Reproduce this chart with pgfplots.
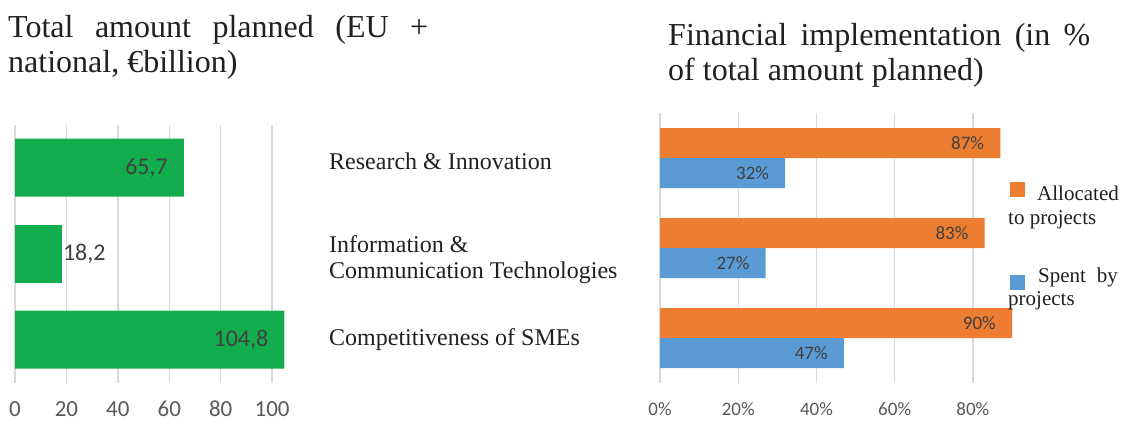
\documentclass[border=0pt]{standalone}
\usepackage{pgfplots}
\pgfplotsset{compat=1.18}
\usepackage{fontspec}
\setmainfont{Liberation Serif}
\newfontfamily\carlito{Carlito}

\definecolor{xgreen}{HTML}{12AD4C}
\definecolor{xorange}{HTML}{ED7D31}
\definecolor{xblue}{HTML}{5B9BD5}
\definecolor{xgrid}{HTML}{D9D9D9}
\definecolor{xlabel}{HTML}{404040}
\definecolor{xtick}{HTML}{595959}
\definecolor{xtext}{HTML}{231F20}

\pgfplotsset{
  hbars/.style={
    xbar,
    scale only axis,
    axis line style={draw=none},
    tick style={draw=none},
    ytick=\empty,
    ymin=-0.5, ymax=2.5,
    xmin=0,
    xmajorgrids,
    grid style={xgrid, line width=1.3pt},
    /pgf/number format/assume math mode=true,
    xticklabel style={anchor=base, yshift=-34pt, text=xtick},
  }
}

\begin{document}
\begin{tikzpicture}
\useasboundingbox (0,0) rectangle (1121pt,-421pt);

% left: total amount planned
\begin{axis}[hbars,
  at={(15pt,-124.5pt)}, anchor=north west,
  width=270pt, height=258pt,
  xmax=105,
  xtick={0,20,...,100},
  xticklabel style={font=\carlito\fontsize{23}{23}\selectfont},
  bar width=58pt,
  nodes near coords={\pgfmathprintnumber[use comma,fixed,fixed zerofill,precision=1]{\pgfplotspointmeta}},
  every node near coord/.append style={font=\carlito\fontsize{24}{24}\selectfont, text=xlabel, inner sep=0pt},
]
\addplot[fill=xgreen, draw=none, bar shift=0pt,
  every node near coord/.append style={anchor=east, xshift=-16pt}]
  coordinates {(65.7,2) (104.8,0)};
\addplot[fill=xgreen, draw=none, bar shift=0pt,
  every node near coord/.append style={anchor=west, xshift=1pt}]
  coordinates {(18.2,1)};
\end{axis}

% right: financial implementation
\begin{axis}[hbars,
  at={(660pt,-113pt)}, anchor=north west,
  width=352pt, height=270pt,
  xmax=90,
  xtick={0,20,...,80},
  xticklabel={\pgfmathprintnumber{\tick}\%},
  xticklabel style={font=\carlito\fontsize{19}{19}\selectfont, yshift=2pt},
  bar width=30pt,
  nodes near coords={\pgfmathprintnumber{\pgfplotspointmeta}\%},
  every node near coord/.append style={font=\carlito\fontsize{19}{19}\selectfont, text=xlabel, inner sep=0pt, anchor=east, xshift=-16pt},
]
\addplot[fill=xorange, draw=none, bar shift=15pt]
  coordinates {(87,2) (83,1) (90,0)};
\addplot[fill=xblue, draw=none, bar shift=-15pt]
  coordinates {(32,2) (27,1) (47,0)};
\end{axis}

% titles
\begin{scope}[every node/.style={inner sep=0pt, text=xtext, font=\fontsize{32}{35}\selectfont}]
\node[anchor=base west] at (8pt,-37pt) {\makebox[420pt][s]{Total amount planned (EU +}};
\node[anchor=base west] at (8pt,-72pt) {national, \texteuro billion)};
\node[anchor=base west] at (668pt,-45pt) {\makebox[422pt][s]{Financial implementation (in \%}};
\node[anchor=base west] at (668pt,-80pt) {of total amount planned)};
\end{scope}

% category labels
\begin{scope}[every node/.style={inner sep=0pt, anchor=base west, text=xtext, font=\fontsize{24}{26}\selectfont}]
\node at (329pt,-169pt) {Research \& Innovation};
\node at (329pt,-252pt) {Information \&};
\node at (329pt,-278pt) {Communication Technologies};
\node at (329pt,-345pt) {Competitiveness of SMEs};
\end{scope}

% legend
\fill[xorange] (1010pt,-182pt) rectangle (1025pt,-197pt);
\fill[xblue] (1010pt,-275pt) rectangle (1025pt,-290pt);
\begin{scope}[every node/.style={inner sep=0pt, text=xtext, font=\fontsize{21}{24}\selectfont}]
\node[anchor=base west] at (1037pt,-200pt) {Allocated};
\node[anchor=base west] at (1008pt,-224pt) {to projects};
\node[anchor=base west] at (1038pt,-282pt) {Spent};
\node[anchor=base east] at (1118pt,-282pt) {by};
\node[anchor=base west] at (1008pt,-305pt) {projects};
\end{scope}
\end{tikzpicture}
\end{document}
